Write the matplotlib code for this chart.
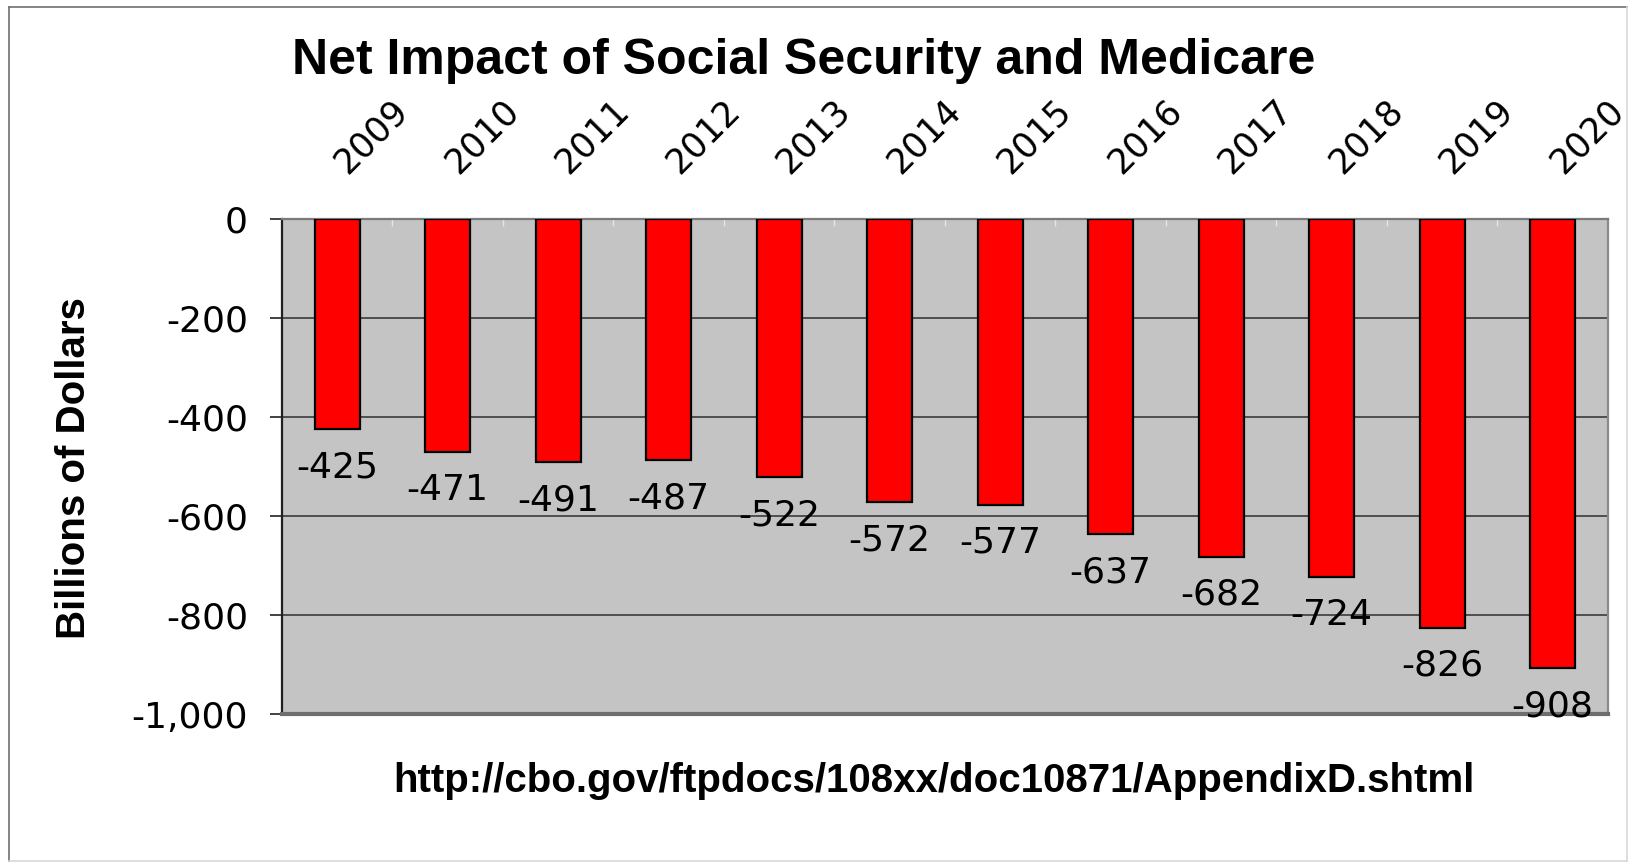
import matplotlib
matplotlib.use("Agg")
import matplotlib.pyplot as plt
from matplotlib.ticker import FuncFormatter, FixedLocator
import matplotlib.transforms as mtransforms
from matplotlib.lines import Line2D
import numpy as np

years = ["2009", "2010", "2011", "2012", "2013", "2014",
         "2015", "2016", "2017", "2018", "2019", "2020"]
values = [-425, -471, -491, -487, -522, -572, -577, -637, -682, -724, -826, -908]
yticks = [0, -200, -400, -600, -800, -1000]

title = "Net Impact of Social Security and Medicare"
ylabel = "Billions of Dollars"
source = "http://cbo.gov/ftpdocs/108xx/doc10871/AppendixD.shtml"

W, H = 1633, 864
fig = plt.figure(figsize=(W / 100, H / 100), dpi=100)
fig.patch.set_facecolor("white")

ax = fig.add_axes([282 / W, 1 - 714 / H, (1608 - 282) / W, (714 - 219) / H])
ax.set_facecolor("#c4c4c4")

x = np.arange(len(years))
ax.bar(x, values, width=0.41, color="#ff0000", edgecolor="black",
       linewidth=1.6, zorder=3)

ax.set_xlim(-0.5, len(years) - 0.5)
ax.set_ylim(-1000, 0)

ax.yaxis.set_major_locator(FixedLocator(yticks))
ax.yaxis.set_major_formatter(FuncFormatter(lambda v, p: f"{int(v):,}"))
ax.grid(axis="y", color="#3a3a3a", linewidth=1.2, zorder=1)
ax.tick_params(axis="y", direction="out", length=8.5, width=1.2, color="#222222",
               pad=16, labelsize=26, labelcolor="black")
for lab in ax.get_yticklabels():
    lab.set_fontfamily("DejaVu Sans")

# x ticks: none on bottom, faint minor marks on top at category boundaries
ax.set_xticks([])
ax.xaxis.set_minor_locator(FixedLocator(np.arange(0.5, len(years) - 0.5, 1.0)))
ax.tick_params(axis="x", which="minor", bottom=False, top=True, direction="in",
               length=5, width=1, color="#e6e6e6")

# spines
ax.spines["left"].set_color("#202020")
ax.spines["left"].set_linewidth(1.6)
ax.spines["top"].set_color("#7a7a7a")
ax.spines["top"].set_linewidth(1.6)
ax.spines["right"].set_color("#8a8a8a")
ax.spines["right"].set_linewidth(1.6)
ax.spines["bottom"].set_color("#6e6e6e")
ax.spines["bottom"].set_linewidth(3)

# year labels above the plot, rotated 45
trans_year = mtransforms.offset_copy(ax.get_xaxis_transform(), fig=fig,
                                     x=10 * 0.72, y=44 * 0.72, units="points")
for xi, yr in zip(x, years):
    ax.text(xi, 1.0, yr, transform=trans_year, rotation=45,
            rotation_mode="anchor", ha="left", va="baseline",
            fontsize=25, family="DejaVu Sans", color="black", clip_on=False)

# value labels below bar ends
for xi, v in zip(x, values):
    ax.annotate(f"{v}", xy=(xi, v), xytext=(0, -21 * 0.72),
                textcoords="offset points", ha="center", va="top",
                fontsize=26, family="DejaVu Sans", color="black",
                zorder=5, annotation_clip=False)

# title, y label, source
fig.text(804 / W, 1 - 74 / H, title, ha="center", va="baseline",
         fontsize=36, fontweight="bold", family="Liberation Sans")
fig.text(74 / W, 1 - 468 / H, ylabel, ha="center", va="center", rotation=90,
         fontsize=29, fontweight="bold", family="Liberation Sans")
fig.text(934 / W, 1 - 792 / H, source, ha="center", va="baseline",
         fontsize=29, fontweight="bold", family="Liberation Sans")

# figure border
fig.add_artist(Line2D([9 / W, 9 / W], [1 - 7 / H, 1 - 861 / H],
                      transform=fig.transFigure, color="#707070", linewidth=1.2))
fig.add_artist(Line2D([9 / W, 1627 / W], [1 - 7 / H, 1 - 7 / H],
                      transform=fig.transFigure, color="#707070", linewidth=1.2))
fig.add_artist(Line2D([1627 / W, 1627 / W], [1 - 7 / H, 1 - 861 / H],
                      transform=fig.transFigure, color="#d8d8d8", linewidth=1.2))
fig.add_artist(Line2D([9 / W, 1627 / W], [1 - 861 / H, 1 - 861 / H],
                      transform=fig.transFigure, color="#d8d8d8", linewidth=1.2))

fig.savefig("out.png", dpi=100, facecolor="white")
